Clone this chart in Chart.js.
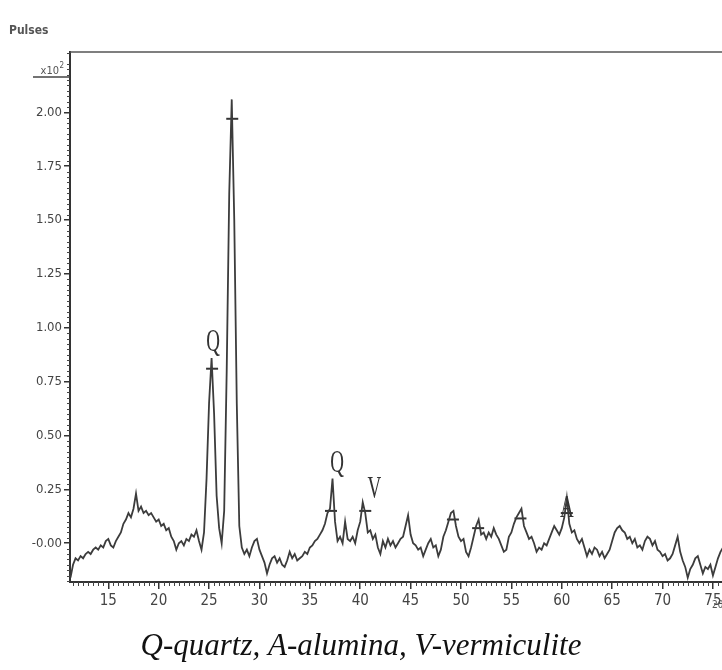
<!DOCTYPE html>
<html>
<head>
<meta charset="utf-8">
<script src="https://cdn.jsdelivr.net/npm/chart.js@4.4.0/dist/chart.umd.min.js"></script>
<style>
  html, body { margin: 0; padding: 0; background: #fff; }
  #wrap { width: 722px; height: 670px; position: relative; }
</style>
</head>
<body>
<div id="wrap"><canvas id="xrdChart"></canvas></div>
<script>
// XRD pattern, intensity in pulses x10^2, sampled every 0.25 deg 2theta from 11.25
const startAngle = 11.25;
const angleStep = 0.25;
const pulses = [
  -0.16, -0.10, -0.07, -0.08, -0.06, -0.07, -0.05, -0.04, -0.05, -0.03, -0.02, -0.03, -0.01, -0.02, 0.01, 0.02,
  -0.01, -0.02, 0.01, 0.03, 0.05, 0.09, 0.11, 0.14, 0.12, 0.16, 0.23, 0.15, 0.17, 0.14, 0.15, 0.13, 0.14, 0.12, 0.10, 0.11,
  0.08, 0.09, 0.06, 0.07, 0.03, 0.01, -0.03, 0.00, 0.01, -0.01, 0.02, 0.01, 0.04, 0.03, 0.06, 0.01, -0.03, 0.05, 0.30, 0.65,
  0.86, 0.60, 0.22, 0.07, 0.00, 0.15, 0.80, 1.62, 2.06, 1.50, 0.65, 0.08, -0.02, -0.05, -0.03, -0.06, -0.02, 0.01, 0.02, -0.03,
  -0.06, -0.09, -0.14, -0.10, -0.07, -0.06, -0.09, -0.07, -0.10, -0.11, -0.08, -0.04, -0.07, -0.05, -0.08, -0.07, -0.06, -0.04, -0.05, -0.02,
  -0.01, 0.01, 0.02, 0.04, 0.06, 0.09, 0.14, 0.16, 0.30, 0.10, 0.01, 0.03, 0.00, 0.10, 0.02, 0.01, 0.03, 0.00, 0.06, 0.10,
  0.19, 0.14, 0.05, 0.06, 0.02, 0.04, -0.02, -0.05, 0.01, -0.02, 0.02, -0.01, 0.01, -0.02, 0.00, 0.02, 0.03, 0.08, 0.13, 0.04,
  0.00, -0.01, -0.03, -0.02, -0.06, -0.03, 0.00, 0.02, -0.02, -0.01, -0.06, -0.03, 0.03, 0.06, 0.10, 0.14, 0.15, 0.08, 0.03, 0.01,
  0.02, -0.04, -0.06, -0.02, 0.03, 0.08, 0.11, 0.04, 0.05, 0.02, 0.05, 0.03, 0.07, 0.04, 0.02, -0.01, -0.04, -0.03, 0.03, 0.05,
  0.09, 0.12, 0.14, 0.16, 0.08, 0.05, 0.02, 0.03, 0.00, -0.04, -0.02, -0.03, 0.00, -0.01, 0.02, 0.05, 0.08, 0.06, 0.04, 0.07,
  0.12, 0.21, 0.09, 0.05, 0.06, 0.02, 0.00, 0.02, -0.02, -0.06, -0.03, -0.05, -0.02, -0.03, -0.06, -0.04, -0.07, -0.05, -0.03, 0.01,
  0.05, 0.07, 0.08, 0.06, 0.05, 0.02, 0.03, 0.00, 0.02, -0.02, -0.01, -0.03, 0.01, 0.03, 0.02, -0.01, 0.01, -0.03, -0.04, -0.06,
  -0.05, -0.08, -0.07, -0.05, -0.01, 0.03, -0.04, -0.08, -0.11, -0.16, -0.12, -0.10, -0.07, -0.06, -0.10, -0.14, -0.11, -0.12, -0.10, -0.15,
  -0.11, -0.07, -0.04, -0.02
];
const twoTheta = pulses.map((_, i) => startAngle + i * angleStep);

const xTicks = [15, 20, 25, 30, 35, 40, 45, 50, 55, 60, 65, 70, 75];
const yTicks = [0, 0.25, 0.5, 0.75, 1.0, 1.25, 1.5, 1.75, 2.0];

// peak markers ("+" dashes) from the instrument's peak search
const markAngles = [25.3, 27.3, 37.1, 40.5, 49.2, 51.7, 55.9, 60.5];
const markValues = [0.81, 1.97, 0.15, 0.15, 0.11, 0.07, 0.115, 0.14];

// phase letters over the peaks
const peakLabels = ["Q", "Q", "V", "A"];
const labelAngles = [25.4, 37.7, 41.4, 60.5];
const labelValues = [0.89, 0.33, 0.21, 0.12];

const caption = "Q-quartz, A-alumina, V-vermiculite";

const sansFont = "'Liberation Sans Narrow', 'DejaVu Sans Condensed', 'Liberation Sans', sans-serif";

const decorPlugin = {
  id: "decor",
  afterDraw(chart) {
    const ctx = chart.ctx;
    const { left, right, top, bottom } = chart.chartArea;
    const xs = chart.scales.x;
    const ys = chart.scales.y;
    ctx.save();

    // frame top line
    ctx.strokeStyle = "#555";
    ctx.lineWidth = 1.5;
    ctx.beginPath();
    ctx.moveTo(left, top);
    ctx.lineTo(right, top);
    ctx.stroke();

    // minor ticks
    ctx.strokeStyle = "#444";
    ctx.lineWidth = 1;
    ctx.beginPath();
    for (let a = 11.5; a <= 75.9; a += 0.5) {
      if (Math.abs(a % 5) < 1e-6) continue;
      const px = Math.round(xs.getPixelForValue(a)) + 0.5;
      ctx.moveTo(px, bottom);
      ctx.lineTo(px, bottom + 4);
    }
    for (let k = -7; k <= 91; k++) {
      if (k % 10 === 0) continue;
      const py = Math.round(ys.getPixelForValue(k * 0.025)) + 0.5;
      ctx.moveTo(left - 3, py);
      ctx.lineTo(left, py);
    }
    ctx.stroke();

    // axis captions
    ctx.fillStyle = "#555";
    ctx.font = "bold 12px " + sansFont;
    ctx.textAlign = "left";
    ctx.textBaseline = "alphabetic";
    ctx.fillText("Pulses", 9, 34);

    ctx.font = "11px " + sansFont;
    ctx.textAlign = "right";
    ctx.fillText("x10", left - 11, top + 22);
    ctx.font = "8px " + sansFont;
    ctx.fillText("2", left - 6, top + 16);
    ctx.strokeStyle = "#444";
    ctx.lineWidth = 1.5;
    ctx.beginPath();
    ctx.moveTo(left - 37, top + 25);
    ctx.lineTo(left, top + 25);
    ctx.stroke();

    ctx.font = "10px " + sansFont;
    ctx.textAlign = "left";
    ctx.fillText("2\u03b8\u00b0", right - 10, bottom + 26);

    // phase letters (condensed serif, as in the scan)
    ctx.fillStyle = "#333";
    ctx.font = "19px 'Liberation Serif', 'DejaVu Serif', serif";
    ctx.textAlign = "center";
    peakLabels.forEach((lab, i) => {
      const px = xs.getPixelForValue(labelAngles[i]);
      const py = ys.getPixelForValue(labelValues[i]);
      ctx.save();
      ctx.translate(px, py);
      ctx.scale(1, 1.7);
      ctx.fillText(lab, 0, 0);
      ctx.restore();
    });

    // caption under the figure
    ctx.fillStyle = "#111";
    ctx.font = "italic 31px 'Liberation Serif', 'DejaVu Serif', serif";
    ctx.textAlign = "center";
    ctx.fillText(caption, chart.width / 2, 655);

    ctx.restore();
  }
};

const ctx = document.getElementById("xrdChart").getContext("2d");
new Chart(ctx, {
  type: "line",
  data: {
    datasets: [
      {
        data: twoTheta.map((a, i) => ({ x: a, y: pulses[i] })),
        borderColor: "#3c3c3c",
        borderWidth: 1.8,
        pointRadius: 0,
        tension: 0,
        fill: false
      },
      {
        type: "scatter",
        data: markAngles.map((a, i) => ({ x: a, y: markValues[i] })),
        pointStyle: "line",
        pointRadius: 6,
        borderColor: "#333",
        borderWidth: 2,
        showLine: false
      }
    ]
  },
  options: {
    responsive: true,
    maintainAspectRatio: false,
    animation: false,
    layout: { autoPadding: false, padding: { top: 52, right: 0, left: 0, bottom: 0 } },
    plugins: {
      legend: { display: false },
      tooltip: { enabled: false }
    },
    scales: {
      x: {
        type: "linear",
        min: 11.2,
        max: 75.9,
        afterBuildTicks: (s) => { s.ticks = xTicks.map((v) => ({ value: v })); },
        afterFit: (s) => { s.height = 88; s.paddingRight = 0; s.paddingLeft = 0; },
        ticks: {
          color: "#444",
          font: { family: sansFont, size: 15 },
          padding: 3,
          maxRotation: 0,
          autoSkip: false
        },
        grid: { drawOnChartArea: false, tickLength: 7, color: "#333", lineWidth: 1.5 },
        border: { display: true, color: "#333", width: 2 }
      },
      y: {
        min: -0.18,
        max: 2.28,
        afterBuildTicks: (s) => { s.ticks = yTicks.map((v) => ({ value: v })); },
        afterFit: (s) => { s.width = 70; s.paddingTop = 0; s.paddingBottom = 0; },
        ticks: {
          color: "#444",
          font: { family: sansFont, size: 13 },
          padding: 2,
          callback: (v) => (v === 0 ? "-0.00" : v.toFixed(2))
        },
        grid: { drawOnChartArea: false, tickLength: 6, color: "#333", lineWidth: 1.5 },
        border: { display: true, color: "#333", width: 2 }
      }
    }
  },
  plugins: [decorPlugin]
});
</script>
</body>
</html>
